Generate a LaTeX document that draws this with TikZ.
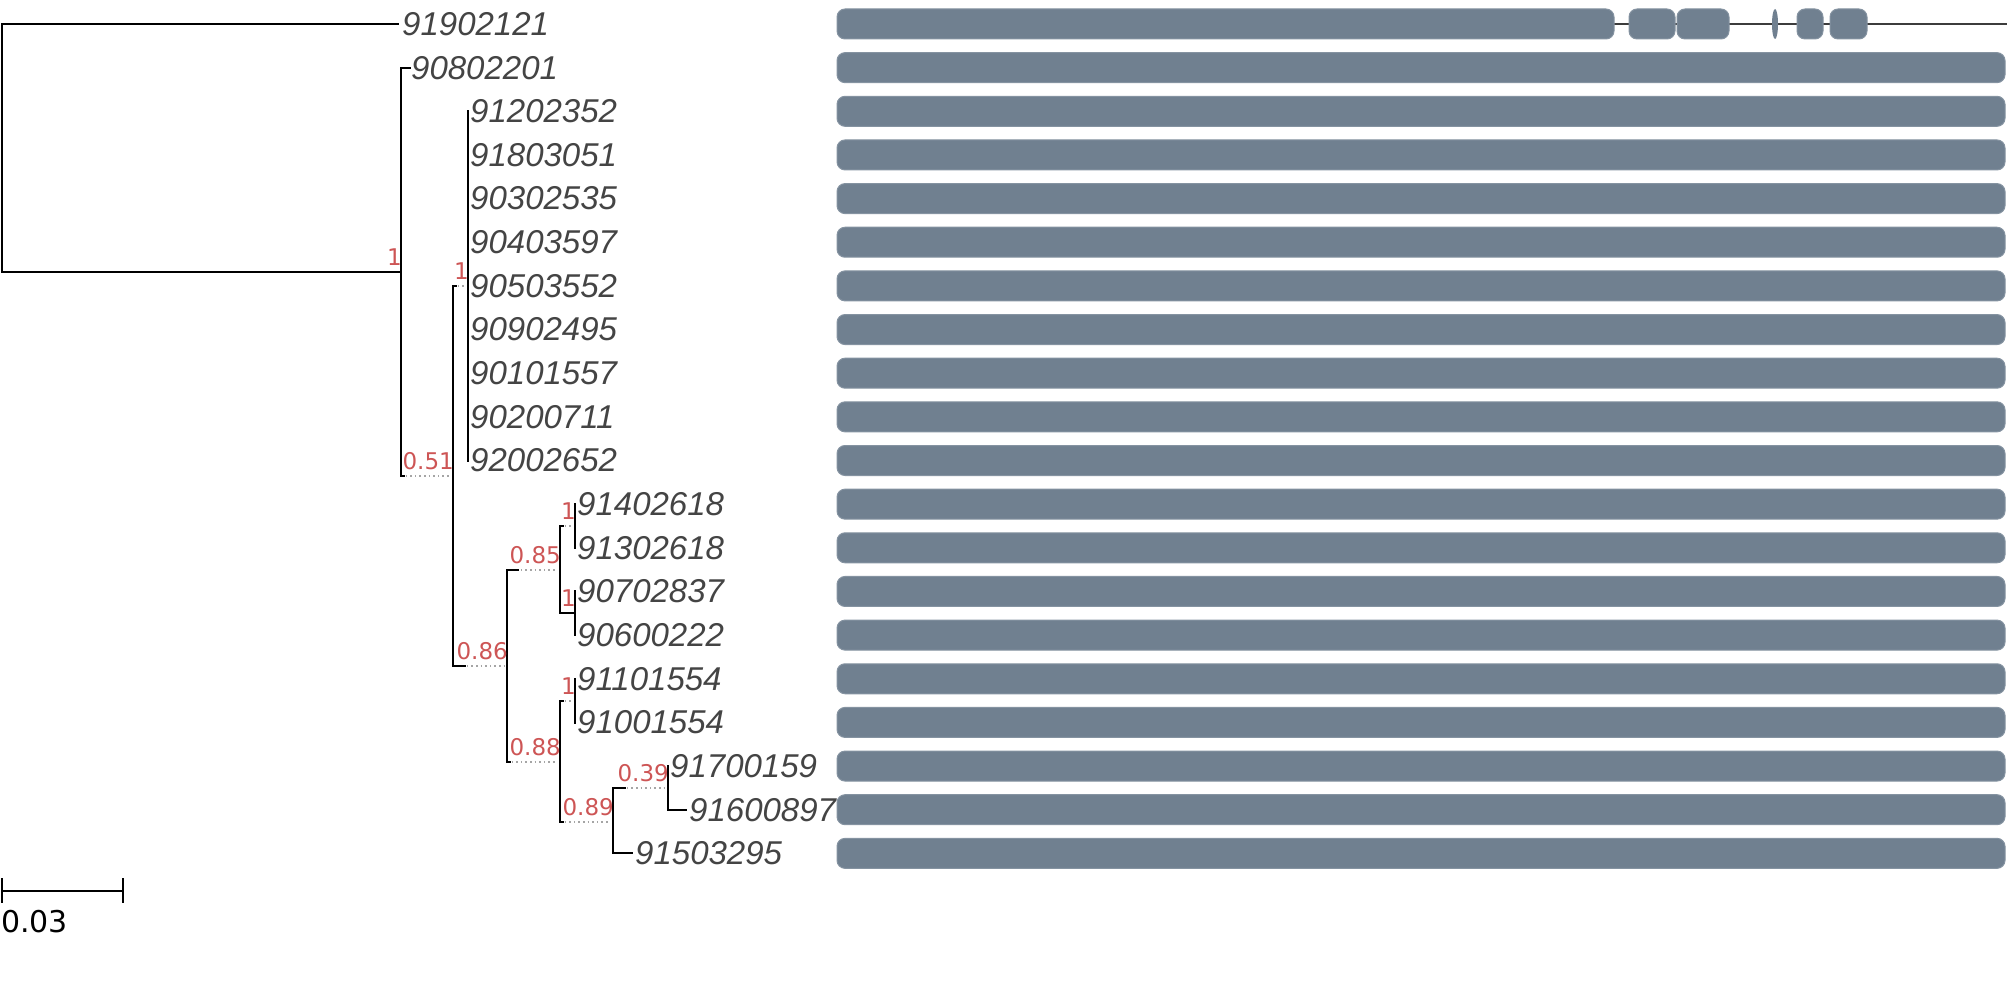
\documentclass[tikz,border=0pt]{standalone}
\usepackage{fontspec}
\newfontfamily\leaffont{Liberation Sans}
\newfontfamily\supfont{DejaVu Sans}
\definecolor{barc}{RGB}{112,128,144}
\definecolor{suppc}{RGB}{205,85,85}
\definecolor{leafc}{RGB}{68,68,68}
\definecolor{dotc}{RGB}{165,165,165}
\definecolor{intronc}{RGB}{60,60,60}
\begin{document}
\begin{tikzpicture}[x=1pt,y=-1pt,
  br/.style={line width=2.2pt, black, line cap=rect},
  dotb/.style={line width=1.6pt, draw=dotc, dash pattern=on 1.6pt off 3pt, shorten >=3pt},
  leaf/.style={anchor=west, inner sep=0pt, text=leafc, font=\leaffont\itshape\fontsize{33}{33}\selectfont},
  supp/.style={anchor=south east, inner sep=0pt, text=suppc, font=\supfont\fontsize{23}{23}\selectfont},
  bar/.style={fill=barc, draw=barc!85!white, line width=1pt, rounded corners=8pt}]
\useasboundingbox (0,0) rectangle (2007,1000);

% leaf labels
\foreach \i/\lab/\x in {1/91902121/402, 2/90802201/411, 3/91202352/470, 4/91803051/470,
  5/90302535/470, 6/90403597/470, 7/90503552/470, 8/90902495/470, 9/90101557/470,
  10/90200711/470, 11/92002652/470, 12/91402618/577, 13/91302618/577, 14/90702837/577,
  15/90600222/577, 16/91101554/577, 17/91001554/577, 18/91700159/670, 19/91600897/689,
  20/91503295/635}
  \node[leaf] (t\i) at (\x, {24+(\i-1)*43.65}) {\lab};

% gene bars
\foreach \i in {2,...,20}
  \path[bar] (837,{24+(\i-1)*43.65-15}) rectangle (2005,{24+(\i-1)*43.65+15});

% row 1 gene structure
\draw[line width=1.5pt, intronc] (1610,24) -- (2007,24);
\path[bar] (837,9) rectangle (1614,39);
\path[bar] (1629,9) rectangle (1675,39);
\path[bar] (1677,9) rectangle (1729,39);
\fill[barc] (1775,24) ellipse [x radius=3pt, y radius=15pt];
\path[bar] (1797,9) rectangle (1823,39);
\path[bar] (1830,9) rectangle (1867,39);

% internal nodes
\coordinate (R) at (2,148);
\coordinate (A) at (401,272);
\coordinate (B) at (453,476);
\coordinate (C) at (468,286);
\coordinate (D) at (507,666);
\coordinate (E) at (560,570);
\coordinate (F) at (560,762);
\coordinate (G) at (575,526);
\coordinate (H) at (575,613);
\coordinate (I) at (575,701);
\coordinate (J) at (613,822);
\coordinate (K) at (668,788);

% branches
\draw[br] (R |- t1) -- (R |- A);
\draw[br] (R |- t1) -- ([xshift=-4pt]t1.west);
\draw[br] (R |- A) -- (A);
\draw[br] (A |- t2) -- (A |- B);
\draw[br] (A |- t2) -- ([xshift=-1pt]t2.west);
\draw[dotb] (A |- B) -- (B);
\draw[br] (A |- B) -- ++(3,0);
\draw[br] (B |- C) -- (B |- D);
\draw[dotb] (B |- C) -- (C);
\draw[br] (B |- C) -- ++(3,0);
\draw[dotb] (B |- D) -- (D);
\draw[br] (B |- D) -- ++(12,0);
\draw[br] (C |- t3) -- (C |- t11);
\draw[br] (D |- E) -- (D |- F);
\draw[dotb] (D |- E) -- (E);
\draw[br] (D |- E) -- ++(11,0);
\draw[dotb] (D |- F) -- (F);
\draw[br] (D |- F) -- ++(3,0);
\draw[br] (E |- G) -- (E |- H);
\draw[dotb] (E |- G) -- (G);
\draw[br] (E |- G) -- ++(3,0);
\draw[br] (E |- H) -- (H);
\draw[br] (G |- t12) -- (G |- t13);
\draw[br] (H |- t14) -- (H |- t15);
\draw[br] (F |- I) -- (F |- J);
\draw[dotb] (F |- I) -- (I);
\draw[br] (F |- I) -- ++(3,0);
\draw[dotb] (F |- J) -- (J);
\draw[br] (F |- J) -- ++(3,0);
\draw[br] (I |- t16) -- (I |- t17);
\draw[br] (J |- K) -- (J |- t20);
\draw[dotb] (J |- K) -- (K);
\draw[br] (J |- K) -- ++(12,0);
\draw[br] (J |- t20) -- ([xshift=-3pt]t20.west);
\draw[br] (K |- t18) -- (K |- t19);
\draw[br] (K |- t19) -- ([xshift=-3pt]t19.west);

% support values
\node[supp] (sA) at ([shift={(1,-6)}]A) {1};
\node[supp] (sB) at ([shift={(1,-6)}]B) {0.51};
\node[supp] (sC) at ([shift={(1,-6)}]C) {1};
\node[supp] (sD) at ([shift={(1,-6)}]D) {0.86};
\node[supp] (sE) at ([shift={(1,-6)}]E) {0.85};
\node[supp] (sF) at ([shift={(1,-6)}]F) {0.88};
\node[supp] (sG) at ([shift={(1,-6)}]G) {1};
\node[supp] (sH) at ([shift={(1,-6)}]H) {1};
\node[supp] (sI) at ([shift={(1,-6)}]I) {1};
\node[supp] (sJ) at ([shift={(1,-6)}]J) {0.89};
\node[supp] (sK) at ([shift={(1,-6)}]K) {0.39};

% scale bar
\coordinate (s0) at (2,891);
\coordinate (s1) at (123,891);
\draw[line width=2pt] (s0) -- (s1);
\draw[line width=2pt] ([yshift=13pt]s0) -- ([yshift=-12pt]s0);
\draw[line width=2pt] ([yshift=13pt]s1) -- ([yshift=-12pt]s1);
\node[anchor=north west, inner sep=0pt, text=black, font=\supfont\fontsize{30}{30}\selectfont] (slab) at (1,910) {0.03};
\end{tikzpicture}
\end{document}
